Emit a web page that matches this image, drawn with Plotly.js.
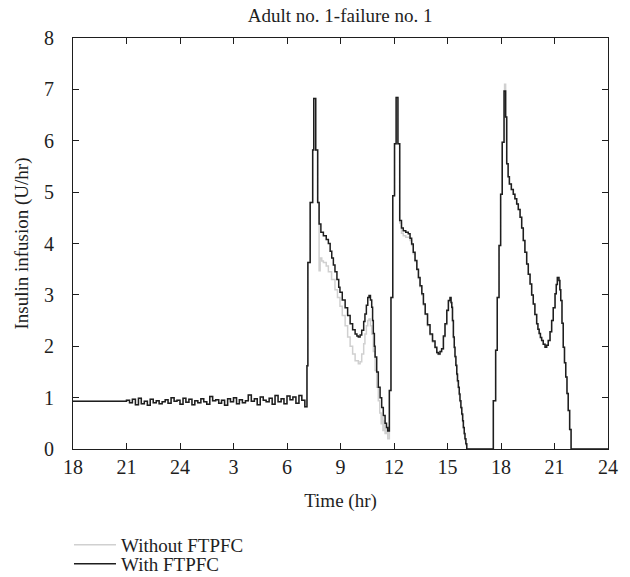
<!DOCTYPE html>
<html>
<head>
<meta charset="utf-8">
<script src="https://cdn.plot.ly/plotly-3.0.1.min.js"></script>
<style>html,body{margin:0;padding:0;background:#fff;}#chart{width:630px;height:577px;}</style>
</head>
<body>
<div id="chart"></div>
<script>
// Time in hours from 18:00 of day 1 (18) to 24:00 of day 2 (48)
const tickVals = [18, 21, 24, 27, 30, 33, 36, 39, 42, 45, 48];
const tickText = ["18", "21", "24", "3", "6", "9", "12", "15", "18", "21", "24"];

// Basal period shared by both series
const baseT = [18];
const baseV = [0.93];
const noiseT = [21, 21.17, 21.33, 21.5, 21.67, 21.83, 22, 22.17, 22.33, 22.5,
  22.67, 22.83, 23, 23.17, 23.33, 23.5, 23.67, 23.83, 24, 24.17,
  24.33, 24.5, 24.67, 24.83, 25, 25.17, 25.33, 25.5, 25.67, 25.83,
  26, 26.17, 26.33, 26.5, 26.67, 26.83, 27, 27.17, 27.33, 27.5,
  27.67, 27.83, 28, 28.17, 28.33, 28.5, 28.67, 28.83, 29, 29.17,
  29.33, 29.5, 29.67, 29.83, 30, 30.17, 30.33, 30.5, 30.67, 30.83, 31];
const noiseV = [0.95, 0.90, 0.97, 0.86, 0.99, 0.88, 0.93, 0.85, 0.97, 0.90,
  0.94, 0.88, 0.92, 0.96, 0.89, 1.00, 0.93, 0.95, 0.87, 0.99,
  0.91, 0.97, 0.86, 0.94, 0.90, 0.98, 0.92, 0.87, 1.02, 0.94,
  0.96, 0.89, 0.95, 0.85, 0.98, 0.92, 1.00, 0.88, 0.96, 0.90,
  0.94, 1.05, 0.93, 0.98, 0.86, 1.01, 0.95, 0.92, 0.99, 0.87,
  1.04, 0.92, 0.98, 0.88, 1.03, 0.96, 1.01, 0.89, 1.04, 0.95, 0.82];

// With FTPFC after breakfast
const withT = [31.12, 31.17, 31.3, 31.44, 31.5, 31.61, 31.72, 31.8, 31.9, 32.04, 32.2, 32.32, 32.42, 32.51, 32.6, 32.69, 32.8, 32.9, 32.97, 33.1, 33.26, 33.4, 33.54, 33.68, 33.82, 33.92, 34.0, 34.1, 34.19, 34.3, 34.37, 34.45, 34.53, 34.6, 34.68, 34.75, 34.8, 34.84, 34.9, 34.94, 35.03, 35.12, 35.22, 35.31, 35.4, 35.5, 35.58, 35.65,
  35.74, 35.83, 35.93, 36.03, 36.12, 36.22, 36.32, 36.42, 36.52, 36.66, 36.8, 36.9, 36.99, 37.08, 37.18, 37.28, 37.37, 37.46, 37.56, 37.65, 37.75, 37.88, 38.02, 38.16, 38.3, 38.4, 38.48, 38.58, 38.67, 38.77, 38.86, 38.96, 39.05, 39.14, 39.2, 39.24, 39.28, 39.33, 39.38, 39.42, 39.47, 39.52, 39.56, 39.61, 39.66, 39.7, 39.75, 39.8, 39.85, 39.89, 39.94, 39.98, 40.03, 40.08,
  41.57, 41.7, 41.79, 41.89, 41.98, 42.07, 42.17, 42.26, 42.32, 42.4, 42.47, 42.58, 42.69, 42.78, 42.88, 42.97, 43.07, 43.16, 43.25, 43.34, 43.44, 43.53, 43.63, 43.72, 43.81, 43.9, 44.0, 44.07, 44.14, 44.21, 44.28, 44.37, 44.47, 44.56, 44.65, 44.75, 44.84, 44.93, 45.03, 45.1, 45.16, 45.25, 45.3, 45.35, 45.42, 45.49, 45.56, 45.63, 45.7, 45.77, 45.85, 45.93, 48];
const withV = [1.62, 3.63, 4.8, 5.82, 6.82, 5.82, 4.8, 4.38, 4.22, 4.15, 4.08, 4.0, 3.85, 3.72, 3.58, 3.45, 3.3, 3.15, 3.05, 2.9, 2.75, 2.6, 2.44, 2.32, 2.24, 2.2, 2.18, 2.22, 2.31, 2.48, 2.63, 2.8, 2.95, 2.99, 2.9, 2.76, 2.5, 2.25, 2.0, 1.79, 1.5, 1.2, 1.0, 0.81, 0.65, 0.5, 0.42, 0.35,
  1.14, 2.95, 4.93, 5.94, 6.84, 5.94, 4.45, 4.3, 4.25, 4.22, 4.19, 4.1, 3.99, 3.83, 3.67, 3.5, 3.34, 3.18, 3.02, 2.82, 2.63, 2.42, 2.24, 2.1, 1.98, 1.88, 1.85, 1.9, 1.95, 2.2, 2.44, 2.7, 2.89, 2.95, 2.85, 2.76, 2.5, 2.18, 1.98, 1.8, 1.63, 1.46, 1.33, 1.2, 1.07, 0.94, 0.81, 0.68, 0.55, 0.42, 0.3, 0.2, 0.1, 0,
  0.94, 1.92, 2.95, 3.96, 4.96, 5.97, 6.97, 6.46, 5.55, 5.3, 5.16, 5.05, 4.96, 4.87, 4.77, 4.66, 4.51, 4.3, 4.06, 3.83, 3.6, 3.4, 3.21, 3.0, 2.82, 2.62, 2.44, 2.33, 2.25, 2.17, 2.11, 2.04, 1.98, 2.02, 2.11, 2.28, 2.5, 2.75, 3.02, 3.2, 3.34, 3.28, 3.1, 2.89, 2.45, 1.98, 1.68, 1.4, 1.08, 0.75, 0.38, 0, 0];

// Without FTPFC after breakfast
const withoutT = [31.12, 31.17, 31.3, 31.44, 31.5, 31.61, 31.72, 31.8, 31.86, 31.95, 32.04, 32.2, 32.32, 32.5, 32.69, 32.83, 32.97, 33.1, 33.26, 33.4, 33.54, 33.68, 33.82, 34.0, 34.1, 34.19, 34.3, 34.37, 34.45, 34.53, 34.6, 34.68, 34.75, 34.84, 34.94, 35.03, 35.12, 35.2, 35.28, 35.33, 35.38, 35.45, 35.5, 35.58, 35.65,
  35.74, 35.83, 35.93, 36.03, 36.12, 36.22, 36.32, 36.42, 36.52, 36.66, 36.8, 36.9, 36.99, 37.08, 37.18, 37.28, 37.37, 37.46, 37.56, 37.65, 37.75, 37.88, 38.02, 38.16, 38.3, 38.4, 38.48, 38.58, 38.67, 38.77, 38.86, 38.96, 39.05, 39.14, 39.2, 39.24, 39.28, 39.33, 39.38, 39.42, 39.47, 39.52, 39.56, 39.61, 39.66, 39.7, 39.75, 39.8, 39.85, 39.89, 39.94, 39.98, 40.03, 40.08,
  41.57, 41.7, 41.79, 41.89, 41.98, 42.05, 42.2, 42.26, 42.32, 42.4, 42.47, 42.58, 42.69, 42.78, 42.88, 42.97, 43.07, 43.16, 43.25, 43.34, 43.44, 43.53, 43.63, 43.72, 43.81, 43.9, 44.0, 44.07, 44.14, 44.21, 44.28, 44.37, 44.47, 44.56, 44.65, 44.75, 44.84, 44.93, 45.03, 45.1, 45.16, 45.25, 45.3, 45.35, 45.42, 45.49, 45.56, 45.63, 45.7, 45.77, 45.85, 45.93, 48];
const withoutV = [1.62, 3.63, 4.8, 5.82, 6.82, 5.82, 4.8, 3.47, 3.72, 3.66, 3.63, 3.56, 3.45, 3.3, 3.1, 2.95, 2.78, 2.6, 2.4, 2.18, 2.0, 1.85, 1.72, 1.66, 1.7, 1.85, 2.05, 2.24, 2.4, 2.5, 2.53, 2.4, 2.24, 1.9, 1.53, 1.2, 0.94, 0.7, 0.49, 0.62, 0.36, 0.55, 0.3, 0.4, 0.2,
  1.14, 2.95, 4.93, 5.94, 6.84, 5.94, 4.4, 4.2, 4.15, 4.12, 4.12, 4.06, 3.96, 3.8, 3.65, 3.48, 3.32, 3.16, 3.0, 2.8, 2.62, 2.4, 2.22, 2.08, 1.96, 1.87, 1.84, 1.89, 1.94, 2.18, 2.42, 2.68, 2.87, 2.93, 2.84, 2.74, 2.48, 2.16, 1.96, 1.78, 1.61, 1.44, 1.31, 1.18, 1.05, 0.92, 0.79, 0.66, 0.53, 0.4, 0.28, 0.18, 0.08, 0,
  0.94, 1.92, 2.95, 3.96, 4.96, 5.97, 7.1, 6.46, 5.55, 5.3, 5.16, 5.05, 4.96, 4.87, 4.77, 4.66, 4.51, 4.3, 4.06, 3.83, 3.6, 3.4, 3.21, 3.0, 2.82, 2.62, 2.44, 2.33, 2.25, 2.17, 2.11, 2.04, 1.98, 2.02, 2.11, 2.28, 2.5, 2.75, 3.02, 3.2, 3.34, 3.28, 3.1, 2.89, 2.45, 1.98, 1.68, 1.4, 1.08, 0.75, 0.38, 0, 0];

const seriesNames = ["Without FTPFC", "With FTPFC"];

const xWithout = baseT.concat(noiseT, withoutT);
const yWithout = baseV.concat(noiseV, withoutV);
const xWith = baseT.concat(noiseT, withT);
const yWith = baseV.concat(noiseV, withV);

const serif = "Liberation Serif, Times New Roman, serif";
const ink = "#1e1e1e";

const traces = [
  {x: xWithout, y: yWithout, name: seriesNames[0], type: "scatter", mode: "lines",
   line: {shape: "hv", color: "#d0d0d0", width: 1.5}, legend: "legend"},
  {x: xWith, y: yWith, name: seriesNames[1], type: "scatter", mode: "lines",
   line: {shape: "hv", color: ink, width: 1.5}, legend: "legend2"}
];

const legendCommon = {xref: "paper", yref: "container", x: -0.0075, xanchor: "left",
  yanchor: "middle", font: {family: serif, size: 19, color: ink},
  bgcolor: "rgba(0,0,0,0)", itemwidth: 42, borderwidth: 0};

const layout = {
  width: 630, height: 577,
  margin: {l: 73, r: 22, t: 38, b: 128},
  paper_bgcolor: "#fff", plot_bgcolor: "#fff",
  font: {family: serif, size: 19, color: ink},
  title: {text: "Adult no. 1-failure no. 1", xref: "container", yref: "container",
          x: 0.54, xanchor: "center", y: 0.974, yanchor: "middle",
          font: {family: serif, size: 19, color: ink}},
  xaxis: {range: [18, 48], tickmode: "array", tickvals: tickVals, ticktext: tickText,
          showline: true, linecolor: ink, linewidth: 1, mirror: "ticks",
          ticks: "inside", ticklen: 6, tickcolor: ink, showgrid: false, zeroline: false,
          tickfont: {family: serif, size: 20, color: ink},
          title: {text: "Time (hr)", font: {family: serif, size: 19, color: ink}, standoff: 16}},
  yaxis: {range: [0, 8], dtick: 1, tick0: 0,
          showline: true, linecolor: ink, linewidth: 1, mirror: "ticks",
          ticks: "inside", ticklen: 6, tickcolor: ink, showgrid: false, zeroline: false,
          ticklabelstandoff: 14,
          tickfont: {family: serif, size: 20, color: ink},
          title: {text: "Insulin infusion (U/hr)", font: {family: serif, size: 19, color: ink}, standoff: 10}},
  legend: Object.assign({}, legendCommon, {y: 1 - 545 / 577}),
  legend2: Object.assign({}, legendCommon, {y: 1 - 564 / 577}),
  showlegend: true
};

Plotly.newPlot("chart", traces, layout, {displayModeBar: false, staticPlot: true});
</script>
</body>
</html>
